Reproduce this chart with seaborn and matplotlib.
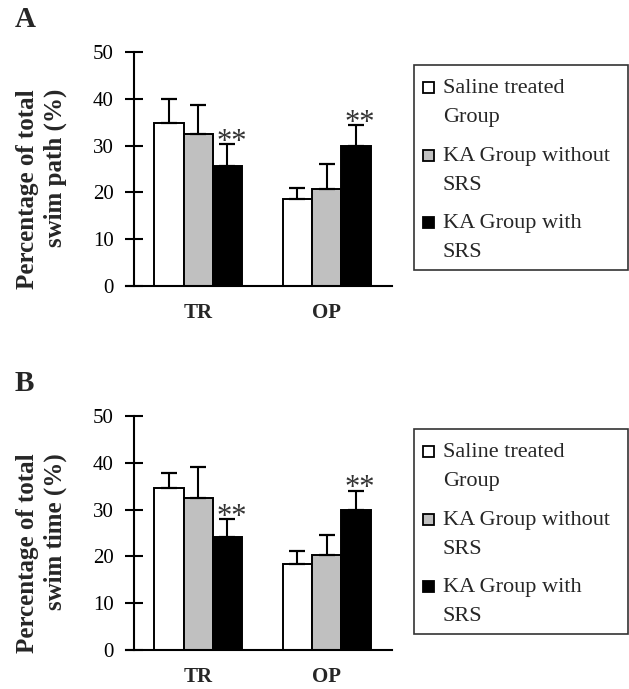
import numpy as np
import pandas as pd
import matplotlib
matplotlib.use("Agg")
import matplotlib.pyplot as plt
import seaborn as sns
from matplotlib.patches import Rectangle

# ---- data ----
categories = ["TR", "OP"]
groups = ["Saline treated Group", "KA Group without SRS", "KA Group with SRS"]
legend_labels = ["Saline treated\nGroup", "KA Group without\nSRS", "KA Group with\nSRS"]
colors = ["#ffffff", "#c0c0c0", "#000000"]

path_means = {"Saline treated Group": [34.8, 18.5],
              "KA Group without SRS": [32.5, 20.7],
              "KA Group with SRS": [25.6, 30.0]}
path_err = {"Saline treated Group": [5.2, 2.5],
            "KA Group without SRS": [6.2, 5.3],
            "KA Group with SRS": [4.7, 4.3]}

time_means = {"Saline treated Group": [34.7, 18.4],
              "KA Group without SRS": [32.5, 20.2],
              "KA Group with SRS": [24.2, 29.9]}
time_err = {"Saline treated Group": [3.1, 2.7],
            "KA Group without SRS": [6.6, 4.3],
            "KA Group with SRS": [3.7, 4.1]}

panel_letters = ["A", "B"]
ylabels = ["Percentage of total\nswim path (%)", "Percentage of total\nswim time (%)"]
yticks = [0, 10, 20, 30, 40, 50]
star_text = "**"
star_group = "KA Group with SRS"

W, H = 629, 689
sns.set_theme(style="white")
plt.rcParams["font.family"] = ["Liberation Serif", "DejaVu Serif"]

fig = plt.figure(figsize=(W / 100, H / 100), dpi=100)


def fx(x):
    return x / W


def fy(y):
    return 1 - y / H


def draw_panel(top_px, means, errs, letter, ylabel):
    bottom_px = top_px + 234
    ax = fig.add_axes([fx(134), fy(bottom_px), (392 - 134) / W, 234 / H])
    rows = []
    for g in groups:
        for c, m in zip(categories, means[g]):
            rows.append({"cat": c, "group": g, "val": m})
    df = pd.DataFrame(rows)
    sns.barplot(data=df, x="cat", y="val", hue="group", order=categories,
                hue_order=groups, palette=colors, width=0.685, gap=0,
                edgecolor="black", linewidth=1.4, errorbar=None,
                legend=False, ax=ax, saturation=1)
    # error bars (upward only)
    bars = ax.patches
    k = 0
    for g in groups:
        for j, c in enumerate(categories):
            b = bars[k]
            k += 1
            xc = b.get_x() + b.get_width() / 2
            top = b.get_height()
            ax.errorbar([xc], [top], yerr=[[0], [errs[g][j]]], fmt="none",
                        ecolor="black", elinewidth=1.5, capsize=5.5,
                        capthick=1.6, zorder=1)
            if g == star_group:
                ax.annotate(star_text, xy=(xc, top + errs[g][j]),
                            xytext=(3, -4), textcoords="offset points",
                            ha="center", va="baseline", fontsize=22,
                            color="#333333")
    ax.set_xlim(-0.5, 1.51)
    ax.set_ylim(0, 50)
    ax.set_yticks(yticks)
    ax.set_xlabel("")
    for s in ["top", "right"]:
        ax.spines[s].set_visible(False)
    for s in ["left", "bottom"]:
        ax.spines[s].set_linewidth(1.5)
        ax.spines[s].set_color("black")
    ax.spines["bottom"].set_bounds(-0.5 - 8 / 128.5, 1.51)
    ax.spines["bottom"].set_clip_on(False)
    ax.tick_params(axis="y", direction="inout", length=13.5, width=1.5,
                   labelsize=15, pad=8, left=True, colors="black")
    ax.tick_params(axis="x", length=0, pad=12, labelsize=15)
    for t in ax.get_xticklabels():
        t.set_fontweight("bold")
    ax.set_ylabel(ylabel, fontsize=18, fontweight="bold", linespacing=1.3,
                  multialignment="right")
    ax.yaxis.set_label_coords(-0.3585, 0.415)
    ax.yaxis.label.set_verticalalignment("center")
    # panel letter
    fig.text(fx(15), fy(top_px - 52 + 27), letter, fontsize=21,
             fontweight="bold", ha="left", va="baseline")
    # legend box (manual)
    off = top_px - 52
    fig.patches.append(Rectangle((fx(414), fy(270 + off)), (628 - 414) / W,
                                 (270 - 65) / H, transform=fig.transFigure,
                                 facecolor="white", edgecolor="#333333",
                                 linewidth=1.2))
    base_lines = [92, 160, 227]
    for i, lab in enumerate(legend_labels):
        bl = base_lines[i] + off
        fig.patches.append(Rectangle((fx(423), fy(bl + 0.5)), 11 / W, 11 / H,
                                     transform=fig.transFigure,
                                     facecolor=colors[i], edgecolor="black",
                                     linewidth=1.3))
        fig.text(fx(443), fy(bl + 30), lab, fontsize=16, ha="left",
                 va="baseline", linespacing=1.7)
    return ax


draw_panel(52, path_means, path_err, "A", ylabels[0])
draw_panel(416, time_means, time_err, "B", ylabels[1])

fig.savefig("out.png", dpi=100)
